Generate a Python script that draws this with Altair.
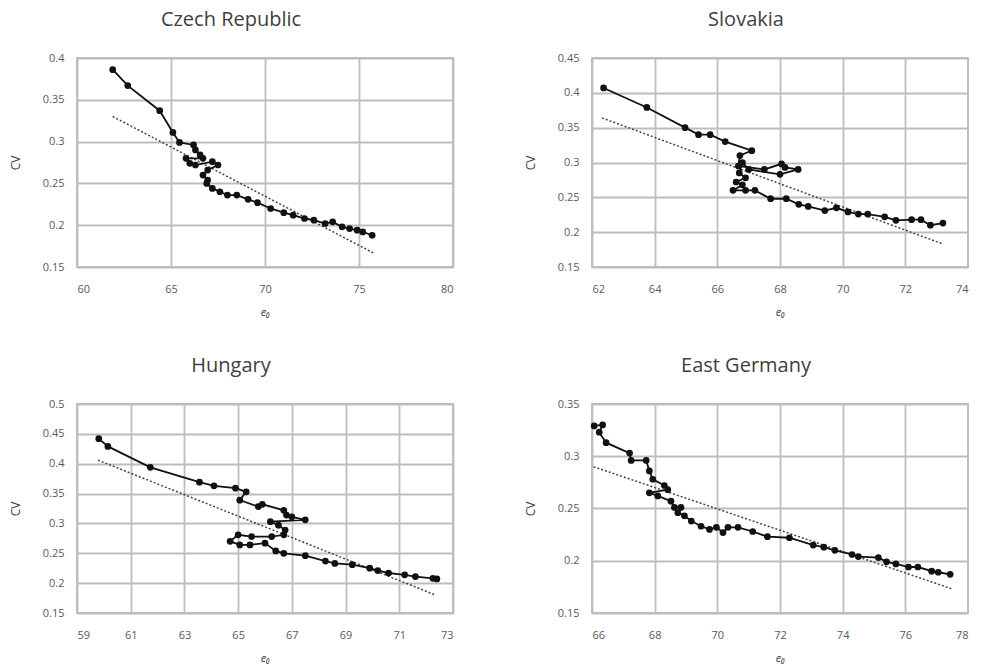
import altair as alt
import pandas as pd

# ---------------- data ----------------
cz_e0 = [61.9, 62.7, 64.4, 65.1, 65.45, 66.2, 66.3, 66.55, 66.7, 65.8, 66.0, 66.3, 67.2, 67.5, 66.95,
         66.7, 66.95, 66.9, 67.2, 67.6, 68.0, 68.5, 69.1, 69.6, 70.3, 71.0, 71.5, 72.1, 72.6, 73.2,
         73.6, 74.1, 74.5, 74.9, 75.2, 75.7]
cz_cv = [0.386, 0.367, 0.337, 0.311, 0.299, 0.296, 0.290, 0.284, 0.280, 0.280, 0.274, 0.272, 0.276, 0.272, 0.266,
         0.260, 0.254, 0.250, 0.244, 0.240, 0.236, 0.236, 0.231, 0.227, 0.220, 0.215, 0.212, 0.208, 0.206, 0.202,
         0.204, 0.198, 0.196, 0.194, 0.192, 0.188]
cz_trend_e0 = [61.9, 75.75]
cz_trend_cv = [0.330, 0.167]

sk_e0 = [62.37, 63.75, 64.97, 65.4, 65.77, 66.25, 67.1, 66.72, 66.67, 67.5, 68.05, 68.16, 68.58, 68.0,
         67.0, 66.8, 66.7, 66.9, 66.6, 66.8, 66.5, 66.9, 67.2, 67.7, 68.2, 68.6, 68.9, 69.43, 69.8,
         70.17, 70.5, 70.8, 71.34, 71.7, 72.2, 72.5, 72.8, 73.2]
sk_cv = [0.407, 0.379, 0.350, 0.340, 0.340, 0.330, 0.317, 0.310, 0.295, 0.290, 0.298, 0.293, 0.290, 0.283,
         0.290, 0.300, 0.285, 0.278, 0.272, 0.268, 0.260, 0.260, 0.260, 0.248, 0.248, 0.240, 0.237, 0.231, 0.235,
         0.229, 0.226, 0.226, 0.222, 0.217, 0.218, 0.218, 0.210, 0.213]
sk_trend_e0 = [62.32, 73.2]
sk_trend_cv = [0.364, 0.183]

hu_e0 = [59.81, 60.15, 61.73, 63.56, 64.1, 64.9, 65.3, 65.06, 65.75, 65.9, 66.7, 66.8, 67.0, 67.5, 66.2,
         66.5, 66.75, 66.7, 66.25, 65.5, 65.0, 64.7, 65.06, 65.44, 66.0, 66.4, 66.7, 67.5, 68.25, 68.6,
         69.25, 69.9, 70.2, 70.6, 71.2, 71.6, 72.25, 72.4]
hu_cv = [0.442, 0.429, 0.394, 0.369, 0.363, 0.359, 0.353, 0.339, 0.328, 0.332, 0.322, 0.314, 0.311, 0.306, 0.303,
         0.297, 0.289, 0.281, 0.278, 0.278, 0.281, 0.270, 0.264, 0.264, 0.267, 0.254, 0.250, 0.246, 0.237, 0.233,
         0.231, 0.225, 0.221, 0.217, 0.214, 0.211, 0.208, 0.207]
hu_trend_e0 = [59.78, 72.3]
hu_trend_cv = [0.406, 0.181]

eg_e0 = [66.07, 66.34, 66.23, 66.45, 67.2, 67.25, 67.73, 67.83, 67.94, 68.31, 68.42, 67.83, 68.1, 68.52,
         68.63, 68.84, 68.74, 68.95, 69.17, 69.48, 69.75, 69.97, 70.18, 70.34, 70.66, 71.13, 71.6, 72.3,
         73.06, 73.4, 73.75, 74.3, 74.5, 75.14, 75.4, 75.7, 76.1, 76.4, 76.84, 77.05, 77.43]
eg_cv = [0.329, 0.330, 0.323, 0.313, 0.303, 0.296, 0.296, 0.286, 0.278, 0.272, 0.268, 0.265, 0.262, 0.257,
         0.251, 0.251, 0.246, 0.243, 0.238, 0.233, 0.230, 0.232, 0.227, 0.232, 0.232, 0.228, 0.223, 0.222,
         0.215, 0.213, 0.210, 0.206, 0.204, 0.203, 0.199, 0.197, 0.194, 0.194, 0.190, 0.189, 0.187]
eg_trend_e0 = [66.05, 77.5]
eg_trend_cv = [0.290, 0.173]

FONT = "Open Sans"
GRID = "#bdbdbd"


def panel(title, e0, cv, te0, tcv, xdom, xticks, ydom, yticks):
    df = pd.DataFrame({"e0": e0, "cv": cv, "i": list(range(len(e0)))})
    tr = pd.DataFrame({"e0": te0, "cv": tcv})
    x = alt.X("e0:Q", scale=alt.Scale(domain=xdom, nice=False, zero=False),
              axis=alt.Axis(values=xticks, tickCount=30, labelOverlap=False, format="d",
                            title="e₀", grid=True,
                            ticks=False, labelPadding=16, titlePadding=12,
                            titleFontStyle="italic", titleFontWeight="normal",
                            titleFontSize=11, titleColor="#404040",
                            labelFontSize=11, labelColor="#595959", domain=False,
                            gridColor=GRID, gridWidth=1.8, labelFont=FONT, titleFont=FONT))
    y = alt.Y("cv:Q", scale=alt.Scale(domain=ydom, nice=False, zero=False),
              axis=alt.Axis(values=yticks, tickCount=30, labelOverlap=False, format=".2~f",
                            title="CV", grid=True,
                            ticks=False, labelPadding=13, titlePadding=20,
                            titleFontWeight="normal", titleFontSize=12, titleColor="#404040",
                            labelFontSize=11, labelColor="#595959", domain=False,
                            gridColor=GRID, gridWidth=1.8, labelFont=FONT, titleFont=FONT))
    line = alt.Chart(df).mark_line(
        color="#111111", strokeWidth=1.8,
        point=alt.OverlayMarkDef(filled=True, color="#111111", size=45)
    ).encode(x=x, y=y, order="i:Q")
    trend = alt.Chart(tr).mark_line(color="#444444", strokeWidth=1.5, strokeDash=[2, 2]).encode(
        x="e0:Q", y="cv:Q")
    return (trend + line).properties(
        width=376, height=209,
        title=alt.TitleParams(title, fontSize=20, font=FONT, fontWeight="normal",
                              color="#404040", offset=22, dx=-34)
    )


cz = panel("Czech Republic", cz_e0, cz_cv, cz_trend_e0, cz_trend_cv,
           [60, 80], [60, 65, 70, 75, 80], [0.15, 0.4], [0.15, 0.2, 0.25, 0.3, 0.35, 0.4])
sk = panel("Slovakia", sk_e0, sk_cv, sk_trend_e0, sk_trend_cv,
           [62, 74], [62, 64, 66, 68, 70, 72, 74], [0.15, 0.45], [0.15, 0.2, 0.25, 0.3, 0.35, 0.4, 0.45])
hu = panel("Hungary", hu_e0, hu_cv, hu_trend_e0, hu_trend_cv,
           [59, 73], [59, 61, 63, 65, 67, 69, 71, 73], [0.15, 0.5],
           [0.15, 0.2, 0.25, 0.3, 0.35, 0.4, 0.45, 0.5])
eg = panel("East Germany", eg_e0, eg_cv, eg_trend_e0, eg_trend_cv,
           [66, 78], [66, 68, 70, 72, 74, 76, 78], [0.15, 0.35], [0.15, 0.2, 0.25, 0.3, 0.35])

chart = alt.vconcat(
    alt.hconcat(cz, sk, spacing=69),
    alt.hconcat(hu, eg, spacing=69),
    spacing=37,
).properties(
    padding={"left": 8, "top": 9, "right": 0, "bottom": 0},
    background="white",
).configure_view(stroke=GRID, strokeWidth=1.8)

chart.save("out.html", embed_options={"renderer": "svg", "actions": False})
